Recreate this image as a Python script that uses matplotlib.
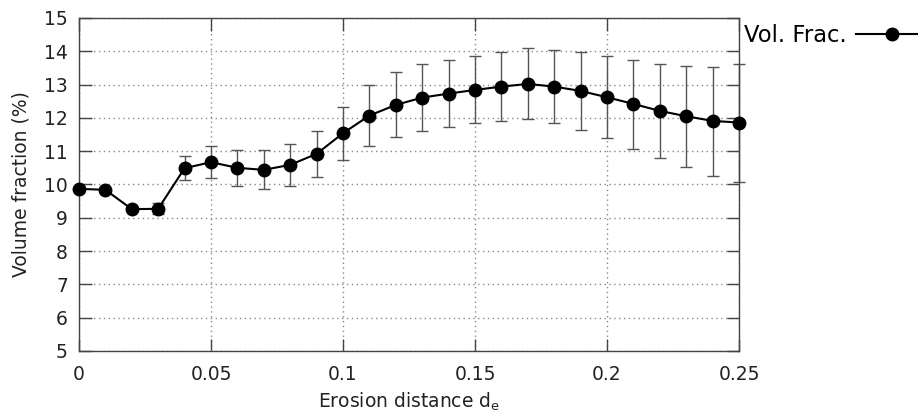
import matplotlib

matplotlib.use("Agg")

import matplotlib.pyplot as plt
import numpy as np

# erosion distance and measured volume fraction (%), with error bar ends
erosion = [0.00, 0.01, 0.02, 0.03, 0.04, 0.05, 0.06, 0.07, 0.08, 0.09,
           0.10, 0.11, 0.12, 0.13, 0.14, 0.15, 0.16, 0.17, 0.18, 0.19,
           0.20, 0.21, 0.22, 0.23, 0.24, 0.25]
vol_frac = [9.87, 9.84, 9.26, 9.27, 10.49, 10.67, 10.50, 10.44, 10.59, 10.92,
            11.54, 12.07, 12.39, 12.61, 12.73, 12.84, 12.94, 13.02, 12.94, 12.81,
            12.62, 12.42, 12.21, 12.05, 11.91, 11.86]
err_top = [9.92, 9.89, 9.31, 9.45, 10.87, 11.16, 11.04, 11.04, 11.21, 11.60,
           12.34, 12.99, 13.37, 13.62, 13.73, 13.85, 13.98, 14.09, 14.04, 13.97,
           13.85, 13.74, 13.62, 13.55, 13.54, 13.63]
err_bot = [9.82, 9.79, 9.21, 9.10, 10.14, 10.20, 9.96, 9.86, 9.96, 10.22,
           10.74, 11.17, 11.42, 11.61, 11.73, 11.84, 11.91, 11.98, 11.86, 11.65,
           11.40, 11.08, 10.80, 10.54, 10.26, 10.09]

x_ticks = [0, 0.05, 0.1, 0.15, 0.2, 0.25]
x_tick_labels = ["0", "0.05", "0.1", "0.15", "0.2", "0.25"]
y_ticks = list(range(5, 16))

plt.rcParams["font.family"] = ["DejaVu Sans"]

fig = plt.figure(figsize=(9.18, 4.19), dpi=100)
ax = fig.add_axes([79 / 918, 1 - 351 / 419, 660 / 918, 333 / 419])

y = np.array(vol_frac)
yerr = np.vstack([y - np.array(err_bot), np.array(err_top) - y])

ax.errorbar(erosion, vol_frac, yerr=yerr, fmt="none", ecolor="#555555",
            elinewidth=1.0, capsize=4.3, capthick=1.0, zorder=2, clip_on=False)
ax.plot(erosion, vol_frac, color="black", linewidth=1.5, marker="o",
        markersize=9, label="Vol. Frac.", zorder=3, clip_on=False)

ax.set_xlim(0, 0.25)
ax.set_ylim(5, 15)
ax.set_xticks(x_ticks, labels=x_tick_labels)
ax.set_yticks(y_ticks)
ax.tick_params(direction="in", length=9, width=1.0, color="#444444",
               top=True, right=True, labelsize=13.5, colors="#222222")
ax.tick_params(axis="x", pad=10)
ax.tick_params(axis="y", pad=8)
ax.grid(True, linestyle=(0, (1, 2.5)), color="#888888", linewidth=1.0)
for spine in ax.spines.values():
    spine.set_color("#444444")
    spine.set_linewidth(1.0)

ax.set_xlabel("Erosion distance d$_\\mathregular{e}$", fontsize=13.5,
              color="#222222", labelpad=5)
ax.set_ylabel("Volume fraction (%)", fontsize=13.5, color="#222222", labelpad=10)

ax.legend(loc="center left", bbox_to_anchor=(744 / 918, 1 - 35 / 419),
          bbox_transform=fig.transFigure, frameon=False, markerfirst=False,
          handlelength=3.2, handletextpad=0.4, fontsize=16.3,
          borderaxespad=0, borderpad=0)

fig.savefig("out.png", dpi=100)
plt.close(fig)
